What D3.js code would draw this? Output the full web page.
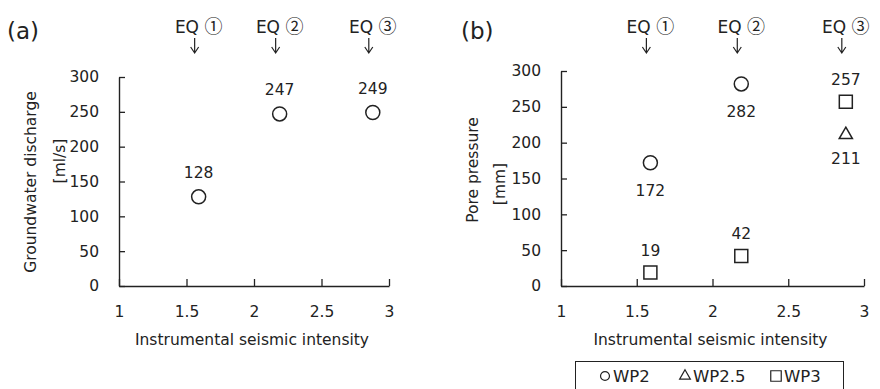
<!DOCTYPE html>
<html>
<head>
<meta charset="utf-8">
<script src="https://cdn.jsdelivr.net/npm/d3@7"></script>
<style>
  html, body { margin: 0; padding: 0; background: #fff; }
  svg { display: block; }
  text { font-family: "DejaVu Sans", "Noto Sans CJK JP", sans-serif; fill: #222; }
</style>
</head>
<body>
<svg id="chart" width="880" height="389"></svg>
<script>
// ---- data ----
const xTickValues = [1, 1.5, 2, 2.5, 3];
const yTickValues = [0, 50, 100, 150, 200, 250, 300];
const eqPrefix = "EQ";
const eqNumbers = ["\u2460", "\u2461", "\u2462"];
const eqIntensity = [1.59, 2.19, 2.88];
const dischargeValues = [128, 247, 249];          // panel (a), ml/s
const wp2Values = [172, 282, null];               // panel (b), mm
const wp25Values = [null, null, 211];
const wp3Values = [19, 42, 257];
const seriesNames = ["WP2", "WP2.5", "WP3"];
const xTitle = "Instrumental seismic intensity";

// label placement (above / below marker)
const dischargeLabelSide = ["above", "above", "above"];
const wp2LabelSide = ["below", "below", "below"];
const wp25LabelSide = ["below", "below", "below"];
const wp3LabelSide = ["above", "above", "above"];

const svg = d3.select("#chart");
const ink = "#222";

function drawPanel(cfg) {
  const g = svg.append("g");
  const x = d3.scaleLinear().domain([1, 3]).range([cfg.x0, cfg.x1]);
  const y = d3.scaleLinear().domain([0, 300]).range([cfg.y0, cfg.y1]);

  const xAxis = d3.axisBottom(x).tickValues(xTickValues)
    .tickFormat(d3.format("")).tickSizeInner(-7).tickSizeOuter(0).tickPadding(20);
  const yAxis = d3.axisLeft(y).tickValues(yTickValues)
    .tickFormat(d3.format("")).tickSizeInner(-6).tickSizeOuter(0).tickPadding(20);

  const gx = g.append("g").attr("transform", `translate(0,${cfg.y0})`).call(xAxis);
  const gy = g.append("g").attr("transform", `translate(${cfg.x0},0)`).call(yAxis);
  [gx, gy].forEach(a => {
    a.selectAll("path.domain").attr("stroke", ink).attr("stroke-width", 1.4);
    a.selectAll(".tick line").attr("stroke", ink).attr("stroke-width", 1.3);
    a.selectAll(".tick text").attr("font-size", 15.5).attr("font-family", '"DejaVu Sans", sans-serif').attr("fill", ink);
  });

  g.append("text").attr("x", (cfg.x0 + cfg.x1) / 2 - 2).attr("y", 345)
    .attr("text-anchor", "middle").attr("font-size", 15.5).text(xTitle);

  g.append("text").attr("transform", `translate(${cfg.yt1x},${cfg.yt1y}) rotate(-90)`)
    .attr("text-anchor", "middle").attr("dy", "0.35em").attr("font-size", 15.5).text(cfg.yTitle1);
  g.append("text").attr("transform", `translate(${cfg.yt2x},${cfg.yt2y}) rotate(-90)`)
    .attr("text-anchor", "middle").attr("dy", "0.35em").attr("font-size", 15.5).text(cfg.yTitle2);

  g.append("text").attr("x", cfg.tagX).attr("y", 39).attr("font-size", 23).text(cfg.tag);

  // EQ markers
  eqIntensity.forEach((v, i) => {
    const t = g.append("text").attr("x", x(v)).attr("y", 27).attr("dy", "0.35em")
      .attr("text-anchor", "middle").attr("font-size", 18);
    t.append("tspan").attr("font-family", '"DejaVu Sans", sans-serif').attr("font-size", 17).text(eqPrefix + " ");
    t.append("tspan").attr("font-family", '"Noto Sans CJK JP", sans-serif').text(eqNumbers[i]);
    const ax = x(v) - 4;
    g.append("path")
      .attr("d", `M${ax},38 L${ax},53 M${ax - 4},47 L${ax},53 L${ax + 4},47`)
      .attr("fill", "none").attr("stroke", ink).attr("stroke-width", 1.2);
  });

  cfg.series.forEach(s => {
    const sym = d3.symbol().type(s.type).size(s.size);
    s.values.forEach((v, i) => {
      if (v == null) return;
      const px = x(eqIntensity[i]), py = y(v);
      g.append("path").attr("d", sym()).attr("transform", `translate(${px},${py})`)
        .attr("fill", "none").attr("stroke", ink).attr("stroke-width", 1.5);
      const off = s.side[i] === "above" ? -s.labelOff : s.labelOff;
      g.append("text").attr("x", px).attr("y", py + off).attr("dy", "0.35em")
        .attr("text-anchor", "middle").attr("font-size", 15.5).text(v);
    });
  });
  return { x, y };
}

drawPanel({
  x0: 119, x1: 389, y0: 286, y1: 77,
  yTitle1: "Groundwater discharge", yt1x: 31, yt1y: 182,
  yTitle2: "[ml/s]", yt2x: 60, yt2y: 161,
  tag: "(a)", tagX: 7,
  series: [
    { values: dischargeValues, type: d3.symbolCircle, size: Math.PI * 49, side: dischargeLabelSide, labelOff: 24 }
  ]
});

drawPanel({
  x0: 561, x1: 864, y0: 286, y1: 71,
  yTitle1: "Pore pressure", yt1x: 473, yt1y: 170,
  yTitle2: "[mm]", yt2x: 500, yt2y: 184,
  tag: "(b)", tagX: 461,
  series: [
    { values: wp2Values, type: d3.symbolCircle, size: Math.PI * 49, side: wp2LabelSide, labelOff: 28 },
    { values: wp25Values, type: d3.symbolTriangle, size: 75, side: wp25LabelSide, labelOff: 24 },
    { values: wp3Values, type: d3.symbolSquare, size: 169, side: wp3LabelSide, labelOff: 22 }
  ]
});

// legend
const lg = svg.append("g");
lg.append("rect").attr("x", 575.5).attr("y", 361.5).attr("width", 268).attr("height", 40)
  .attr("fill", "none").attr("stroke", ink).attr("stroke-width", 1);
const legendTypes = [d3.symbolCircle, d3.symbolTriangle, d3.symbolSquare];
const legendSizes = [Math.PI * 20, 50, 110];
const legendSymX = [605, 685, 776];
seriesNames.forEach((name, i) => {
  lg.append("path").attr("d", d3.symbol().type(legendTypes[i]).size(legendSizes[i])())
    .attr("transform", `translate(${legendSymX[i]},376)`)
    .attr("fill", "none").attr("stroke", ink).attr("stroke-width", 1.2);
  lg.append("text").attr("x", legendSymX[i] + 8).attr("y", 376).attr("dy", "0.35em")
    .attr("font-size", 16.5).text(name);
});
</script>
</body>
</html>
